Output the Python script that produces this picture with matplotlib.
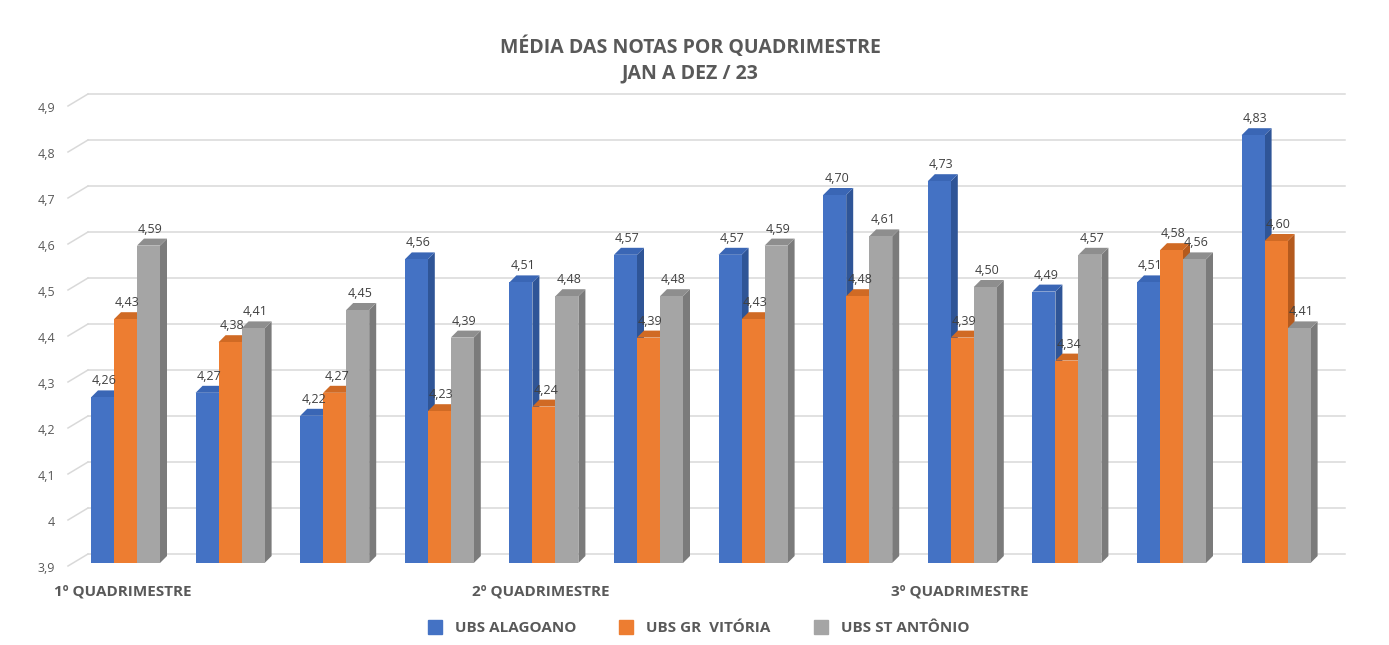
import matplotlib
matplotlib.use("Agg")
import matplotlib.pyplot as plt
from matplotlib.patches import Polygon, Rectangle
from matplotlib.lines import Line2D

# ---- data ----
series_names = ["UBS ALAGOANO", "UBS GR  VITÓRIA", "UBS ST ANTÔNIO"]
alagoano = [4.26, 4.27, 4.22, 4.56, 4.51, 4.57, 4.57, 4.70, 4.73, 4.49, 4.51, 4.83]
gr_vitoria = [4.43, 4.38, 4.27, 4.23, 4.24, 4.39, 4.43, 4.48, 4.39, 4.34, 4.58, 4.60]
st_antonio = [4.59, 4.41, 4.45, 4.39, 4.48, 4.48, 4.59, 4.61, 4.50, 4.57, 4.56, 4.41]
quadrimestres = ["1º QUADRIMESTRE", "2º QUADRIMESTRE", "3º QUADRIMESTRE"]
yticks = [3.9, 4.0, 4.1, 4.2, 4.3, 4.4, 4.5, 4.6, 4.7, 4.8, 4.9]
title = "MÉDIA DAS NOTAS POR QUADRIMESTRE\nJAN A DEZ / 23"

front_colors = ["#4472C4", "#ED7D31", "#A5A5A5"]
side_colors = ["#2F5597", "#B45A1E", "#7B7B7B"]
top_colors = ["#3A66B5", "#D06A24", "#8E8E8E"]

W, H = 1389, 645
fig = plt.figure(figsize=(W / 100, H / 100), dpi=100)
fig.patch.set_facecolor("white")

FONT = ["Open Sans", "DejaVu Sans"]
TXT = "#595959"

# axes geometry in pixels
left_px, right_px = 60, 1345
top_px, bot_px = 103, 563
x0_px, gstep_px = 125.5, 104.6
ax = fig.add_axes([left_px / W, (H - bot_px) / H, (right_px - left_px) / W, (bot_px - top_px) / H])
ax.set_xlim((left_px - x0_px) / gstep_px, (right_px - x0_px) / gstep_px)
ax.set_ylim(3.9, 4.9)
ax.axis("off")

px_x = 1.0 / gstep_px          # data units per pixel in x
px_y = 1.0 / (bot_px - top_px)  # data units per pixel in y

# back wall gridlines + diagonal floor lines
grid_x0 = (88 - x0_px) / gstep_px
grid_x1 = (right_px - x0_px) / gstep_px
diag_x0 = (68 - x0_px) / gstep_px
back_dy = 9 * px_y
for v in yticks:
    ax.plot([grid_x0, grid_x1], [v + back_dy, v + back_dy], color="#D9D9D9", lw=1.1, zorder=0, clip_on=False)
    ax.plot([diag_x0, grid_x0], [v - 3 * px_y, v + back_dy], color="#D9D9D9", lw=1.1, zorder=0, clip_on=False)
    ax.text(diag_x0 - 13 * px_x, v - 5 * px_y, f"{v:g}".replace(".", ","), ha="right", va="center",
            fontsize=9, color=TXT, family=FONT, clip_on=False)

bw = 23 * px_x
dx = 7 * px_x
dy = 7 * px_y
series = [alagoano, gr_vitoria, st_antonio]
for g in range(len(alagoano)):
    for s, vals in enumerate(series):
        v = vals[g]
        xl = g + (s - 1.5) * bw
        xr = xl + bw
        base = 3.9
        # side face
        ax.add_patch(Polygon([(xr, base), (xr + dx, base + dy), (xr + dx, v + dy), (xr, v)],
                             closed=True, facecolor=side_colors[s], edgecolor="none", zorder=2 + s))
        # top face
        ax.add_patch(Polygon([(xl, v), (xl + dx, v + dy), (xr + dx, v + dy), (xr, v)],
                             closed=True, facecolor=top_colors[s], edgecolor="none", zorder=2 + s))
        # front face
        ax.add_patch(Rectangle((xl, base), bw, v - base, facecolor=front_colors[s], edgecolor="none", zorder=2 + s))
        ax.text((xl + xr) / 2 + 2 * px_x, v + dy + 3 * px_y, f"{v:.2f}".replace(".", ","), ha="center", va="bottom",
                fontsize=9, color="#404040", family=FONT, zorder=10)

# category labels every 4 groups
for i, q in enumerate(quadrimestres):
    ax.text(i * 4 - 3 * px_x, 3.9 - 28 * px_y, q, ha="center", va="center", fontsize=11, fontweight="bold",
            color=TXT, family=FONT, clip_on=False)

# title
fig.text(690 / W, 1 - 60 / H, title, ha="center", va="center", fontsize=14, fontweight="bold",
         color=TXT, family=FONT, linespacing=1.3)

# legend
handles = [Line2D([], [], marker="s", linestyle="none", markersize=10, markerfacecolor=c, markeredgecolor=c)
           for c in front_colors]
leg = fig.legend(handles, series_names, loc="center", bbox_to_anchor=(0.5, 1 - 628 / H), ncol=3, frameon=False,
                 columnspacing=2.3, handletextpad=0.3, prop={"family": FONT, "weight": "bold", "size": 11})
for t in leg.get_texts():
    t.set_color(TXT)

fig.savefig("out.png", dpi=100, facecolor="white")
